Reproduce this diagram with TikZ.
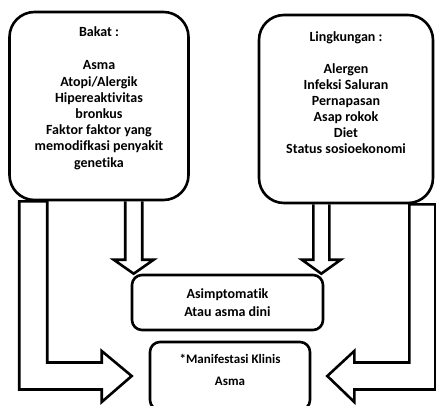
\documentclass[tikz,border=0pt]{standalone}
\usepackage{fontspec}
\setmainfont{Carlito}[Ligatures={CommonOff}]
\usetikzlibrary{positioning,calc}
\tikzset {
    big box/.style={
        draw=black,
        line width=2.6pt,
        rectangle, % Set the shape as a rectangle
        rounded corners=25pt,
    },
    small box/.style={
        draw=black,
        line width=2.6pt,
        rectangle, % Set the shape as a rectangle
        rounded corners=10pt,
        align=center,
        font=\bfseries\fontsize{14}{18}\selectfont,
    },
    list text/.style={
        inner sep=0pt,
        align=center,
        font=\bfseries\fontsize{14}{16.2}\selectfont,
    },
    hollow/.style={draw=black, line width=2.6pt, line join=miter},
}
\begin{document}
\begin{tikzpicture}[x=1pt, y=-1pt]
        \useasboundingbox (0,0) rectangle (436,405);

        \node[big box, minimum width=179pt, minimum height=188pt] at (99,106) (bakat) {};
        \node[big box, minimum width=174pt, minimum height=188pt] at (346,109) (lingkungan) {};
        \node[small box, minimum width=191pt, minimum height=55pt] at (227.5,302.5) (asim) {Asimptomatik\\Atau asma dini};
        \node[small box, minimum width=160pt, minimum height=68pt] at (230,376) (manif) {};

        \node[list text, below=16pt of bakat.north] (bakat text) {Bakat :\\[17pt]Asma\\Atopi/Alergik\\Hipereaktivitas\\bronkus\\Faktor faktor yang\\memodifkasi penyakit\\genetika};
        \node[list text, font=\bfseries\fontsize{14}{16}\selectfont, below=18pt of lingkungan.north] (lingkungan text) {Lingkungan :\\[16pt]Alergen\\Infeksi Saluran\\Pernapasan\\Asap rokok\\Diet\\Status sosioekonomi};
        \node[list text, font=\bfseries\fontsize{13}{22}\selectfont, below=13pt of manif.north] (manif text) {*Manifestasi Klinis\\Asma};

        % down arrows into asim
        \coordinate (tipA) at ($(asim.north west)+(3,0)$);
        \coordinate (aL) at ($(tipA)+(-8.5,0)$);
        \coordinate (aR) at ($(tipA)+(8.5,0)$);
        \draw[hollow] (aL |- bakat.south) -- ($(aL)+(0,-14)$) -- ++(-11.5,0) -- (tipA) -- ++(20,-14) -- ++(-11.5,0) -- (aR |- bakat.south);
        \coordinate (tipB) at ($(asim.north east)+(-3,0)$);
        \coordinate (bL) at ($(tipB)+(-8,0)$);
        \coordinate (bR) at ($(tipB)+(8,0)$);
        \draw[hollow] (bL |- lingkungan.south) -- ($(bL)+(0,-14)$) -- ++(-11.5,0) -- (tipB) -- ++(19.5,-14) -- ++(-11.5,0) -- (bR |- lingkungan.south);

        % L arrows into manif
        \coordinate (tipL) at ($(manif.west)+(-17,0)$);
        \coordinate (lo) at ($(bakat.south west)+(11,0)$);
        \coordinate (li) at ($(bakat.south west)+(39,0)$);
        \coordinate (lbot) at ($(tipL)+(-30,13.5)$);
        \coordinate (ltop) at ($(tipL)+(-30,-13.5)$);
        \draw[hollow] (li) -- (lo) -- (lo |- lbot) -- (lbot) -- ++(0,12.5) -- (tipL) -- ($(tipL)+(-30,-25)$) -- (ltop) -- (li |- ltop) -- cycle;

        \coordinate (tipR) at ($(manif.east)+(16,0)$);
        \coordinate (ro) at ($(lingkungan.south east)+(1,0)$);
        \coordinate (ri) at ($(lingkungan.south east)+(-25,0)$);
        \coordinate (rbot) at ($(tipR)+(27,13.5)$);
        \coordinate (rtop) at ($(tipR)+(27,-13.5)$);
        \draw[hollow] (ri) -- (ro) -- (ro |- rbot) -- (rbot) -- ++(0,12.5) -- (tipR) -- ($(tipR)+(27,-25)$) -- (rtop) -- (ri |- rtop) -- cycle;
    \end{tikzpicture}
\end{document}
